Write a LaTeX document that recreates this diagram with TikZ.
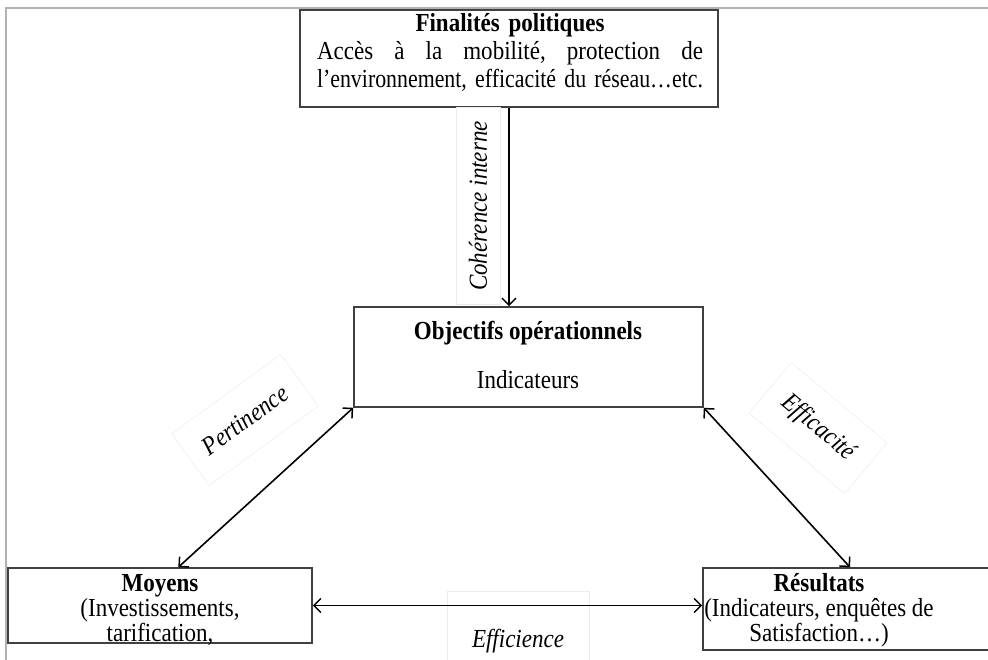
\documentclass[tikz,border=0pt]{standalone}
\usepackage{graphicx}
\usepackage{fontspec}
\setmainfont[FakeStretch=0.885]{Liberation Serif}
\usetikzlibrary{arrows.meta,calc}
\begin{document}
\begin{tikzpicture}[x=1pt,y=-1pt,
  >={Straight Barb[length=7pt,width=14pt,line width=1.5pt]},
  box/.style={draw=black!75, line width=1.6pt, inner sep=0pt},
  txt/.style={font=\fontsize{26}{28}\selectfont, align=center, inner sep=0pt},
  lab/.style={font=\fontsize{26}{28}\selectfont\itshape, draw=black!8, fill=white, inner sep=0pt},
  con/.style={line width=1.6pt, black},
]
\useasboundingbox (0,0) rectangle (988,660);
\draw[black!30, line width=2pt] (6,660) -- (6,8) -- (988,8);

% boxes
\node[box, minimum width=418pt, minimum height=97pt] (fin) at (509,58.5) {};
\node[box, minimum width=349pt, minimum height=100pt] (obj) at (528.5,357) {};
\node[box, minimum width=304pt, minimum height=75pt] (moy) at (160,605.5) {};
\node[box, minimum width=297pt, minimum height=82pt] (res) at (851.5,609) {};

% texts
\node[txt, text width=386pt] (fint) at (510,52) {\textbf{Finalités politiques}\\
  \leavevmode\hbox to 386pt{Accès\hfill à\hfill la\hfill mobilité,\hfill protection\hfill de}\\
  \resizebox{386pt}{\height}{l’environnement, efficacité du réseau…etc.}};
\node[txt] (objt) at (528,333) {\textbf{Objectifs opérationnels}};
\node[txt] (objs) at (528,380) {Indicateurs};
\node[txt, font=\fontsize{26}{25}\selectfont] (moyt) at (160,610) {\textbf{Moyens}\\(Investissements,\\tarification,};
\node[txt, font=\fontsize{26}{25}\selectfont] (rest) at (819,610) {\textbf{Résultats}\\(Indicateurs, enquêtes de\\Satisfaction…)};

% labels
\node[lab, rotate=90, minimum width=197pt, minimum height=44pt] (lcoh) at (478,206) {Cohérence interne};
\node[lab, rotate=36, minimum width=135pt, minimum height=64pt] (lper) at (245,420) {Pertinence};
\node[lab, rotate=-40, minimum width=125pt, minimum height=66pt] (leff) at (818,428) {Efficacité};
\node[lab, minimum width=142pt, minimum height=100pt] (lefi) at (518,641) {Efficience};

% connectors
\draw[con, ->] (fin.south) -- (fin.south |- obj.north);
\draw[con, <->] (obj.south west) -- ($(moy.north west)!0.56!(moy.north east)$);
\draw[con, <->] (obj.south east) -- ($(res.north west)!0.495!(res.north east)$);
\draw[con, <->] (moy.east) -- (moy.east -| res.west);
\end{tikzpicture}
\end{document}
